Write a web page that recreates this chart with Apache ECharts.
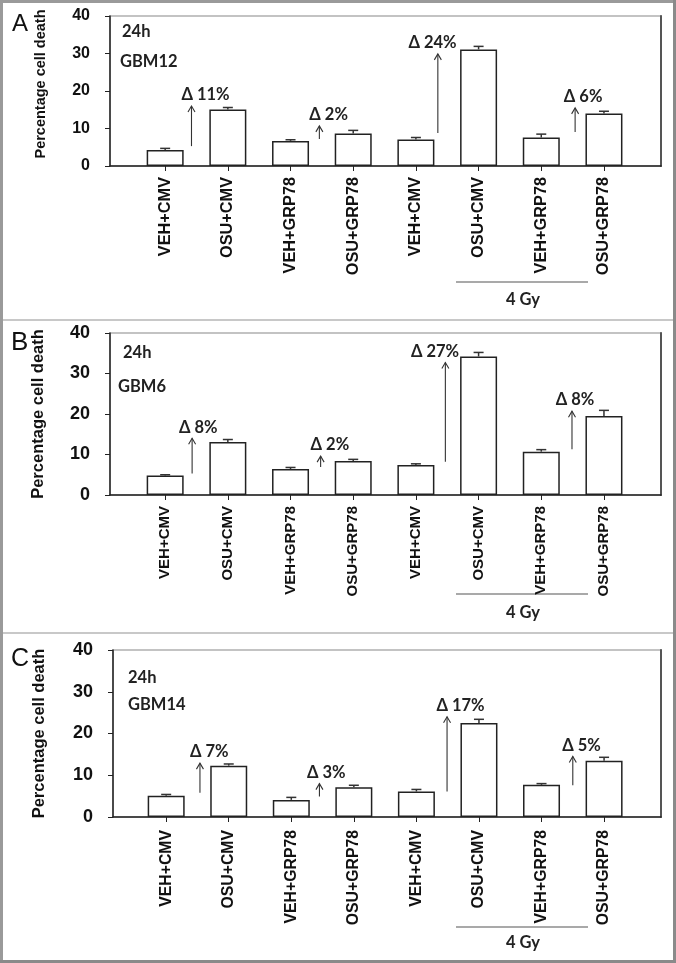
<!DOCTYPE html>
<html><head><meta charset="utf-8">
<script src="https://cdn.jsdelivr.net/npm/echarts@6/dist/echarts.min.js"></script>
<style>html,body{margin:0;padding:0;background:#fff}#c{width:676px;height:963px}</style>
</head><body><div id="c"></div>
<script>
// ---- data ----
const categories = ['VEH+CMV','OSU+CMV','VEH+GRP78','OSU+GRP78','VEH+CMV','OSU+CMV','VEH+GRP78','OSU+GRP78'];
const catPos = [1,2,3,4,5,6,7,8];
const yTicks = [0,10,20,30,40];

const gbm12Mean = [4.3,15.1,6.7,8.7,7.1,31.1,7.6,14.0];
const gbm12Err  = [0.4,0.5,0.3,0.8,0.5,0.8,0.9,0.6];
const gbm6Mean  = [4.8,13.1,6.4,8.4,7.4,34.2,10.7,19.5];
const gbm6Err   = [0.2,0.6,0.4,0.4,0.3,1.0,0.5,1.4];
const gbm14Mean = [5.1,12.3,4.1,7.1,6.1,22.5,7.7,13.5];
const gbm14Err  = [0.3,0.4,0.6,0.5,0.5,0.9,0.3,0.8];

// arrows: x position, start value, end value, label x, label text
const gbm12ArrowX = [1.42,3.46,5.35,7.54];
const gbm12ArrowFrom = [5.3,7.2,8.8,9.1];
const gbm12ArrowTo = [16.0,10.7,29.9,15.5];
const gbm12LabelX = [1.26,3.30,4.88,7.36];
const gbm12Delta = ['\u0394 11%','\u0394 2%','\u0394 24%','\u0394 6%'];

const gbm6ArrowX = [1.43,3.48,5.47,7.49];
const gbm6ArrowFrom = [5.3,6.9,8.2,11.3];
const gbm6ArrowTo = [14.0,9.6,32.7,20.7];
const gbm6LabelX = [1.22,3.32,4.92,7.23];
const gbm6Delta = ['\u0394 8%','\u0394 2%','\u0394 27%','\u0394 8%'];

const gbm14ArrowX = [1.54,3.45,5.49,7.50];
const gbm14ArrowFrom = [5.8,4.9,6.1,7.6];
const gbm14ArrowTo = [12.9,8.0,24.0,14.5];
const gbm14LabelX = [1.38,3.25,5.32,7.33];
const gbm14Delta = ['\u0394 7%','\u0394 3%','\u0394 17%','\u0394 5%'];

const panelLetters = ['A','B','C'];
const panelTime = ['24h','24h','24h'];
const panelLines = ['GBM12','GBM6','GBM14'];
const doseLabel = '4 Gy';
const yName = 'Percentage cell death';

// ---- layout ----
const panels = [
  {mean:gbm12Mean, err:gbm12Err, ax:gbm12ArrowX, af:gbm12ArrowFrom, at:gbm12ArrowTo, lx:gbm12LabelX, dt:gbm12Delta,
   grid:{left:110, top:16, width:551, height:150}, xmin:0.12, xmax:8.91, ylab:16, yname:14.5, yGap:62, xMargin:11,
   xLab:16.3, namePad:[0,0,0,14],
   letter:{x:12,y:12,size:24}, t1:{x:122,y:32}, t2:{x:120,y:62}, doseLineY:282, doseTextY:300},
  {mean:gbm6Mean, err:gbm6Err, ax:gbm6ArrowX, af:gbm6ArrowFrom, at:gbm6ArrowTo, lx:gbm6LabelX, dt:gbm6Delta,
   grid:{left:110, top:333, width:551, height:162}, xmin:0.12, xmax:8.91, ylab:18, yname:16.5, yGap:63, xMargin:11,
   xLab:15, namePad:[0,0,0,0],
   letter:{x:11,y:330,size:26}, t1:{x:123,y:353}, t2:{x:118,y:387}, doseLineY:594, doseTextY:613},
  {mean:gbm14Mean, err:gbm14Err, ax:gbm14ArrowX, af:gbm14ArrowFrom, at:gbm14ArrowTo, lx:gbm14LabelX, dt:gbm14Delta,
   grid:{left:113, top:650, width:548, height:167}, xmin:0.15, xmax:8.91, ylab:18, yname:16.5, yGap:65, xMargin:13,
   xLab:15.8, namePad:[0,0,0,0],
   letter:{x:11,y:647,size:25}, t1:{x:128,y:678}, t2:{x:128,y:705}, doseLineY:927, doseTextY:943}
];

const grids = [], xAxes = [], yAxes = [], series = [], graphics = [];
const sansBold = "'Liberation Sans', Arial, sans-serif";
const calib = "Lato, 'Open Sans', sans-serif";

panels.forEach((p, i) => {
  grids.push(Object.assign({show:true, borderColor:'#b0b0b0', borderWidth:1.5, backgroundColor:'transparent'}, p.grid));
  xAxes.push({
    gridIndex:i, type:'value', min:p.xmin, max:p.xmax,
    axisLine:{show:true, onZero:false, lineStyle:{color:'#222', width:1.5}},
    axisTick:{show:true, customValues:catPos, length:5, lineStyle:{color:'#222', width:1}},
    axisLabel:{show:true, customValues:catPos, rotate:90, margin:p.xMargin,
      formatter:v => categories[Math.round(v)-1] || '',
      fontFamily:sansBold, fontWeight:'bold', fontSize:p.xLab, color:'#111'},
    splitLine:{show:false}
  });
  yAxes.push({
    gridIndex:i, type:'value', min:0, max:40, interval:10,
    name:yName, nameLocation:'middle', nameGap:p.yGap, nameRotate:90,
    nameTextStyle:{fontFamily:sansBold, fontWeight:'bold', fontSize:p.yname, color:'#111', padding:p.namePad},
    axisLine:{show:true, lineStyle:{color:'#222', width:1.5}},
    axisTick:{show:true, length:5, lineStyle:{color:'#222', width:1}},
    axisLabel:{margin:20, fontFamily:sansBold, fontWeight:'bold', fontSize:p.ylab, color:'#111',
      customValues:yTicks},
    splitLine:{show:false}
  });
  // right frame edge
  yAxes.push({
    gridIndex:i, type:'value', min:0, max:40, position:'right',
    axisLine:{show:true, lineStyle:{color:'#555', width:2}},
    axisTick:{show:false}, axisLabel:{show:false}, splitLine:{show:false}
  });
  const yIdx = i*2;
  series.push({
    type:'bar', xAxisIndex:i, yAxisIndex:yIdx, barWidth:37,
    data: p.mean.map((m,k) => [catPos[k], m]),
    itemStyle:{color:'#fff', borderColor:'#222', borderWidth:1.5},
    z:2, silent:true
  });
  series.push({
    type:'custom', xAxisIndex:i, yAxisIndex:yIdx, z:3, clip:false, silent:true,
    data: p.mean.map((m,k) => [catPos[k], m, m + p.err[k]]),
    encode:{x:0, y:[1,2]},
    renderItem:(params, api) => {
      const x = api.value(0);
      const a = api.coord([x, api.value(1)]), b = api.coord([x, api.value(2)]);
      const cw = 5;
      return {type:'group', children:[
        {type:'line', shape:{x1:a[0], y1:a[1], x2:b[0], y2:b[1]}, style:{stroke:'#333', lineWidth:1.5}},
        {type:'line', shape:{x1:b[0]-cw, y1:b[1], x2:b[0]+cw, y2:b[1]}, style:{stroke:'#333', lineWidth:1.5}}
      ]};
    }
  });
  series.push({
    type:'custom', xAxisIndex:i, yAxisIndex:yIdx, z:4, clip:false, silent:true,
    data: p.ax.map((x,k) => [x, p.af[k], p.at[k], p.lx[k]]),
    encode:{x:[0,3], y:[1,2]},
    renderItem:(params, api) => {
      const x = api.value(0);
      const a = api.coord([x, api.value(1)]), b = api.coord([x, api.value(2)]);
      const l = api.coord([api.value(3), api.value(2)]);
      return {type:'group', children:[
        {type:'line', shape:{x1:a[0], y1:a[1], x2:b[0], y2:b[1]}, style:{stroke:'#333', lineWidth:1.1}},
        {type:'polyline', shape:{points:[[b[0]-3.5, b[1]+6],[b[0], b[1]],[b[0]+3.5, b[1]+6]]},
          style:{stroke:'#333', lineWidth:1.1, fill:null}},
        {type:'text', x:l[0], y:b[1]-11, style:{text:p.dt[params.dataIndex], fontFamily:calib, fontWeight:'bold',
          fontSize:16.5, fill:'#222', align:'left', verticalAlign:'middle'}}
      ]};
    }
  });
  // annotations
  graphics.push({type:'text', left:p.letter.x, top:p.letter.y,
    style:{text:panelLetters[i], fontFamily:sansBold, fontSize:p.letter.size, fill:'#111'}});
  graphics.push({type:'text', x:p.t1.x, y:p.t1.y,
    style:{text:panelTime[i], fontFamily:calib, fontWeight:'bold', fontSize:16.5, fill:'#222', verticalAlign:'middle'}});
  graphics.push({type:'text', x:p.t2.x, y:p.t2.y,
    style:{text:panelLines[i], fontFamily:calib, fontWeight:'bold', fontSize:16.5, fill:'#222', verticalAlign:'middle'}});
  graphics.push({type:'line', shape:{x1:456, y1:p.doseLineY, x2:588, y2:p.doseLineY},
    style:{stroke:'#555', lineWidth:1.2}});
  graphics.push({type:'text', x:523, y:p.doseTextY,
    style:{text:doseLabel, fontFamily:calib, fontWeight:'bold', fontSize:16.5, fill:'#222', align:'center', verticalAlign:'middle'}});
});

// outer frame and separators
graphics.push({type:'rect', shape:{x:0, y:0, width:3, height:963}, style:{fill:'#9a9a9a'}});
graphics.push({type:'rect', shape:{x:0, y:0, width:676, height:3}, style:{fill:'#9a9a9a'}});
graphics.push({type:'rect', shape:{x:673, y:0, width:3, height:963}, style:{fill:'#8a8a8a'}});
graphics.push({type:'rect', shape:{x:0, y:960, width:676, height:3}, style:{fill:'#8a8a8a'}});
graphics.push({type:'rect', shape:{x:3, y:319, width:670, height:2}, style:{fill:'#c8c8c8'}});
graphics.push({type:'rect', shape:{x:3, y:632, width:670, height:2}, style:{fill:'#c8c8c8'}});

const chart = echarts.init(document.getElementById('c'), null, {renderer:'canvas'});
chart.setOption({
  backgroundColor:'#fff',
  animation:false,
  grid:grids, xAxis:xAxes, yAxis:yAxes, series:series, graphic:graphics
});
</script>
</body></html>
